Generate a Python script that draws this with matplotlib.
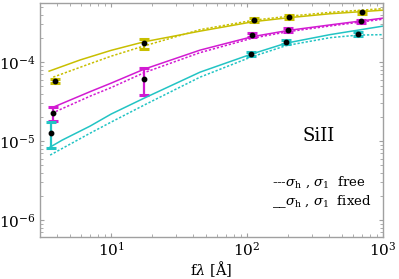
import matplotlib
matplotlib.use("Agg")
import matplotlib.pyplot as plt
from matplotlib.ticker import LogLocator, NullFormatter

plt.rcParams["font.family"] = "DejaVu Serif"
plt.rcParams["mathtext.fontset"] = "dejavuserif"

# measured points (f*lambda, column) with error bar limits
yel_x = [3.85, 17.6, 112, 204, 702]
yel_y = [5.75e-5, 1.74e-4, 3.40e-4, 3.72e-4, 4.30e-4]
yel_lo = [5.4e-5, 1.46e-4, 3.2e-4, 3.52e-4, 4.1e-4]
yel_hi = [6.1e-5, 1.95e-4, 3.6e-4, 3.92e-4, 4.5e-4]

mag_x = [3.75, 17.5, 109, 200, 689]
mag_y = [2.26e-5, 6.1e-5, 2.20e-4, 2.54e-4, 3.30e-4]
mag_lo = [1.79e-5, 3.82e-5, 2.08e-4, 2.41e-4, 3.14e-4]
mag_hi = [2.69e-5, 8.4e-5, 2.32e-4, 2.68e-4, 3.46e-4]

cya_x = [3.62, 107, 194, 654]
cya_y = [1.26e-5, 1.26e-4, 1.79e-4, 2.26e-4]
cya_lo = [8.1e-6, 1.19e-4, 1.70e-4, 2.15e-4]
cya_hi = [1.74e-5, 1.33e-4, 1.88e-4, 2.38e-4]

# model curves: solid = sigma fixed, dotted = sigma free
yel_fix_x = [3.50, 5.92, 10.0, 17.5, 45.1, 112, 204, 407, 1000]
yel_fix_y = [7.69e-5, 1.066e-4, 1.41e-4, 1.81e-4, 2.47e-4, 3.26e-4, 3.66e-4, 4.10e-4, 4.55e-4]
yel_free_x = [3.75, 7.01, 10.0, 17.2, 45.1, 112, 204, 407, 1000]
yel_free_y = [6.46e-5, 9.57e-5, 1.19e-4, 1.59e-4, 2.58e-4, 3.40e-4, 3.82e-4, 4.27e-4, 4.76e-4]

mag_fix_x = [3.62, 7.01, 10.0, 17.5, 45.1, 109, 200, 407, 1000]
mag_fix_y = [2.62e-5, 4.23e-5, 5.42e-5, 8.15e-5, 1.42e-4, 2.10e-4, 2.52e-4, 2.96e-4, 3.61e-4]
mag_free_x = [3.68, 7.01, 10.0, 17.5, 45.1, 109, 200, 407, 1000]
mag_free_y = [2.26e-5, 3.71e-5, 4.76e-5, 7.36e-5, 1.32e-4, 2.01e-4, 2.43e-4, 2.87e-4, 3.50e-4]

cya_fix_x = [3.56, 4.37, 7.01, 10.0, 17.5, 45.1, 107, 194, 407, 1000]
cya_fix_y = [8.40e-6, 1.03e-5, 1.55e-5, 2.20e-5, 3.50e-5, 7.47e-5, 1.26e-4, 1.74e-4, 2.23e-4, 2.86e-4]
cya_free_x = [3.56, 7.01, 10.0, 17.5, 45.1, 107, 194, 407, 654, 1000]
cya_free_y = [6.65e-6, 1.26e-5, 1.74e-5, 2.86e-5, 6.46e-5, 1.16e-4, 1.62e-4, 2.04e-4, 2.20e-4, 2.23e-4]

YEL = "#c8bf00"
MAG = "#d21bd2"
CYA = "#22c4c4"
GRAY = "#a0a0a0"

fig = plt.figure(figsize=(3.99, 2.79), dpi=100)
ax = fig.add_axes([0.1003, 0.1505, 0.8597, 0.8385])

series = [
    (YEL, yel_x, yel_y, yel_lo, yel_hi, yel_fix_x, yel_fix_y, yel_free_x, yel_free_y),
    (MAG, mag_x, mag_y, mag_lo, mag_hi, mag_fix_x, mag_fix_y, mag_free_x, mag_free_y),
    (CYA, cya_x, cya_y, cya_lo, cya_hi, cya_fix_x, cya_fix_y, cya_free_x, cya_free_y),
]
for col, x, y, lo, hi, fx, fy, dx, dy in series:
    ax.plot(fx, fy, color=col, lw=1.1)
    ax.plot(dx, dy, color=col, lw=1.1, ls=(0, (1.5, 1.2)))
    err = [[v - l for v, l in zip(y, lo)], [h - v for v, h in zip(y, hi)]]
    ax.errorbar(x, y, yerr=err, fmt="none", ecolor=col, elinewidth=1.6,
                capsize=3.6, capthick=2.2)
    ax.plot(x, y, "o", color="black", ms=3.2, zorder=5)

ax.set_xscale("log")
ax.set_yscale("log")
ax.set_xlim(3.0, 1000)
ax.set_ylim(6.1e-7, 5.6e-4)

for s in ax.spines.values():
    s.set_color(GRAY)
    s.set_linewidth(1.0)
ax.tick_params(which="both", direction="in", top=True, right=True,
               color=GRAY, labelsize=11, pad=3)
ax.tick_params(which="major", length=3)
ax.tick_params(which="minor", length=2)
ax.xaxis.set_minor_locator(LogLocator(base=10, subs=range(2, 10), numticks=20))
ax.yaxis.set_minor_locator(LogLocator(base=10, subs=range(2, 10), numticks=20))
ax.xaxis.set_minor_formatter(NullFormatter())
ax.yaxis.set_minor_formatter(NullFormatter())

ax.set_xlabel("f$\\lambda$ [Å]", fontsize=10.5, labelpad=0)

ax.text(0.813, 0.433, "SiII", transform=ax.transAxes, fontsize=13,
        ha="center", va="center")
ax.text(0.676, 0.235, "---$\\sigma_{\\rm h}$ , $\\sigma_1$  free",
        transform=ax.transAxes, fontsize=9.5, ha="left", va="center")
ax.text(0.676, 0.150, "__$\\sigma_{\\rm h}$ , $\\sigma_1$  fixed",
        transform=ax.transAxes, fontsize=9.5, ha="left", va="center")

fig.savefig("out.png", dpi=100)
